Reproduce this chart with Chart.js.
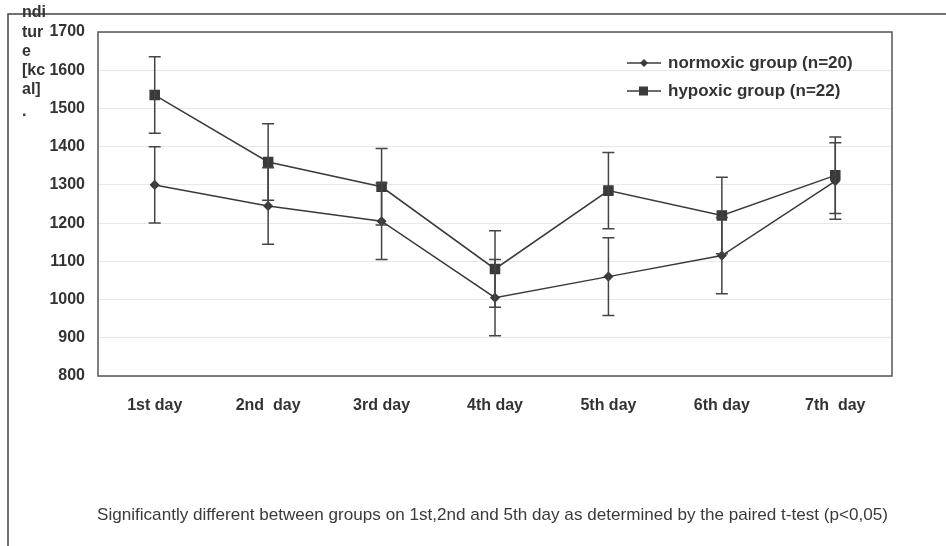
<!DOCTYPE html>
<html>
<head>
<meta charset="utf-8">
<script src="https://cdn.jsdelivr.net/npm/chart.js@4"></script>
<style>
  html, body { margin: 0; padding: 0; background: #fff; }
  #wrap { width: 946px; height: 546px; position: relative; }
</style>
</head>
<body>
<div id="wrap"><canvas id="grafico" width="946" height="546"></canvas></div>
<script>
const dias = ['1st day', '2nd  day', '3rd day', '4th day', '5th day', '6th day', '7th  day'];
const normoxico = [1300, 1245, 1205, 1005, 1060, 1115, 1310];
const normoxicoDp = [100, 100, 100, 100, 102, 100, 100];
const hipoxico = [1535, 1360, 1295, 1080, 1285, 1220, 1325];
const hipoxicoDp = [100, 100, 100, 100, 100, 100, 100];
const yTicks = [800, 900, 1000, 1100, 1200, 1300, 1400, 1500, 1600, 1700];
const tituloY = ['ndi', 'tur', 'e', '[kc', 'al]', '.'];
const nota = 'Significantly different between groups on 1st,2nd and 5th day as determined by the paired t-test (p<0,05)';

const cor = '#3a3a3a';

// barras de erro, moldura, legenda e textos soltos
const extras = {
  id: 'extras',
  afterDatasetsDraw(chart) {
    const ctx = chart.ctx;
    const a = chart.chartArea;
    const y = chart.scales.y;
    ctx.save();

    // barras de erro
    ctx.strokeStyle = '#444';
    ctx.lineWidth = 1.5;
    chart.data.datasets.forEach((ds, i) => {
      const meta = chart.getDatasetMeta(i);
      meta.data.forEach((pt, j) => {
        const v = ds.data[j], e = ds.erro[j];
        const yt = y.getPixelForValue(v + e), yb = y.getPixelForValue(v - e);
        ctx.beginPath();
        ctx.moveTo(pt.x, yt); ctx.lineTo(pt.x, yb);
        ctx.moveTo(pt.x - 6, yt); ctx.lineTo(pt.x + 6, yt);
        ctx.moveTo(pt.x - 6, yb); ctx.lineTo(pt.x + 6, yb);
        ctx.stroke();
      });
    });

    // moldura do gráfico
    ctx.strokeStyle = '#555';
    ctx.lineWidth = 1.5;
    ctx.strokeRect(a.left, a.top, a.right - a.left, a.bottom - a.top);

    // moldura externa
    ctx.strokeStyle = '#444';
    ctx.lineWidth = 1.5;
    ctx.beginPath();
    ctx.moveTo(946, 14); ctx.lineTo(8, 14); ctx.lineTo(8, 546);
    ctx.stroke();

    // legenda
    chart.data.datasets.forEach((ds, i) => {
      const ly = 63 + i * 28;
      ctx.strokeStyle = cor;
      ctx.lineWidth = 1.5;
      ctx.beginPath();
      ctx.moveTo(627, ly); ctx.lineTo(661, ly);
      ctx.stroke();
      ctx.fillStyle = cor;
      if (ds.pointStyle === 'rect') {
        ctx.fillRect(639, ly - 4.5, 9, 9);
      } else {
        ctx.beginPath();
        ctx.moveTo(644, ly - 4); ctx.lineTo(648, ly); ctx.lineTo(644, ly + 4); ctx.lineTo(640, ly);
        ctx.closePath(); ctx.fill();
      }
      ctx.font = 'bold 17px "Liberation Sans", Arial, sans-serif';
      ctx.textBaseline = 'middle';
      ctx.fillStyle = '#333';
      ctx.fillText(ds.label, 668, ly);
    });

    // titulo do eixo y (cortado como no original)
    ctx.font = 'bold 16px "Liberation Sans", Arial, sans-serif';
    ctx.fillStyle = '#333';
    ctx.textBaseline = 'middle';
    const pos = [13, 33, 52, 71, 90, 112];
    tituloY.forEach((t, i) => ctx.fillText(t, 22, pos[i]));

    // nota de rodapé
    ctx.font = '17px "Liberation Sans", Arial, sans-serif';
    ctx.fillStyle = '#3a3a3a';
    const w = ctx.measureText(nota).width;
    ctx.translate(97, 515);
    ctx.scale(791 / w, 1);
    ctx.fillText(nota, 0, 0);

    ctx.restore();
  }
};

const ctx = document.getElementById('grafico').getContext('2d');
const chart = new Chart(ctx, {
  type: 'line',
  data: {
    labels: dias,
    datasets: [
      {
        label: 'normoxic group (n=20)',
        data: normoxico,
        erro: normoxicoDp,
        borderColor: cor,
        backgroundColor: cor,
        borderWidth: 1.5,
        pointStyle: 'rectRot',
        pointRadius: 4,
        fill: false
      },
      {
        label: 'hypoxic group (n=22)',
        data: hipoxico,
        erro: hipoxicoDp,
        borderColor: cor,
        backgroundColor: cor,
        borderWidth: 1.5,
        pointStyle: 'rect',
        pointRadius: 6.4,
        fill: false
      }
    ]
  },
  options: {
    responsive: false,
    animation: false,
    layout: { padding: { left: 0, top: 32, right: 54, bottom: 0 } },
    plugins: {
      legend: { display: false },
      tooltip: { enabled: false }
    },
    scales: {
      x: {
        offset: true,
        grid: { display: false, drawTicks: false },
        border: { display: false },
        ticks: {
          padding: 20,
          color: '#333',
          font: { family: '"Liberation Sans", Arial, sans-serif', size: 16, weight: 'bold' },
          maxRotation: 0
        },
        afterFit(s) { s.height = 170; }
      },
      y: {
        min: 800,
        max: 1700,
        afterBuildTicks(s) { s.ticks = yTicks.map(v => ({ value: v })); },
        grid: { color: 'rgba(0,0,0,0.09)', drawTicks: false },
        border: { display: false },
        ticks: {
          padding: 13,
          color: '#333',
          font: { family: '"Liberation Sans", Arial, sans-serif', size: 16, weight: 'bold' },
          callback: v => String(v)
        },
        afterFit(s) { s.width = 98; }
      }
    }
  },
  plugins: [extras]
});
</script>
</body>
</html>
